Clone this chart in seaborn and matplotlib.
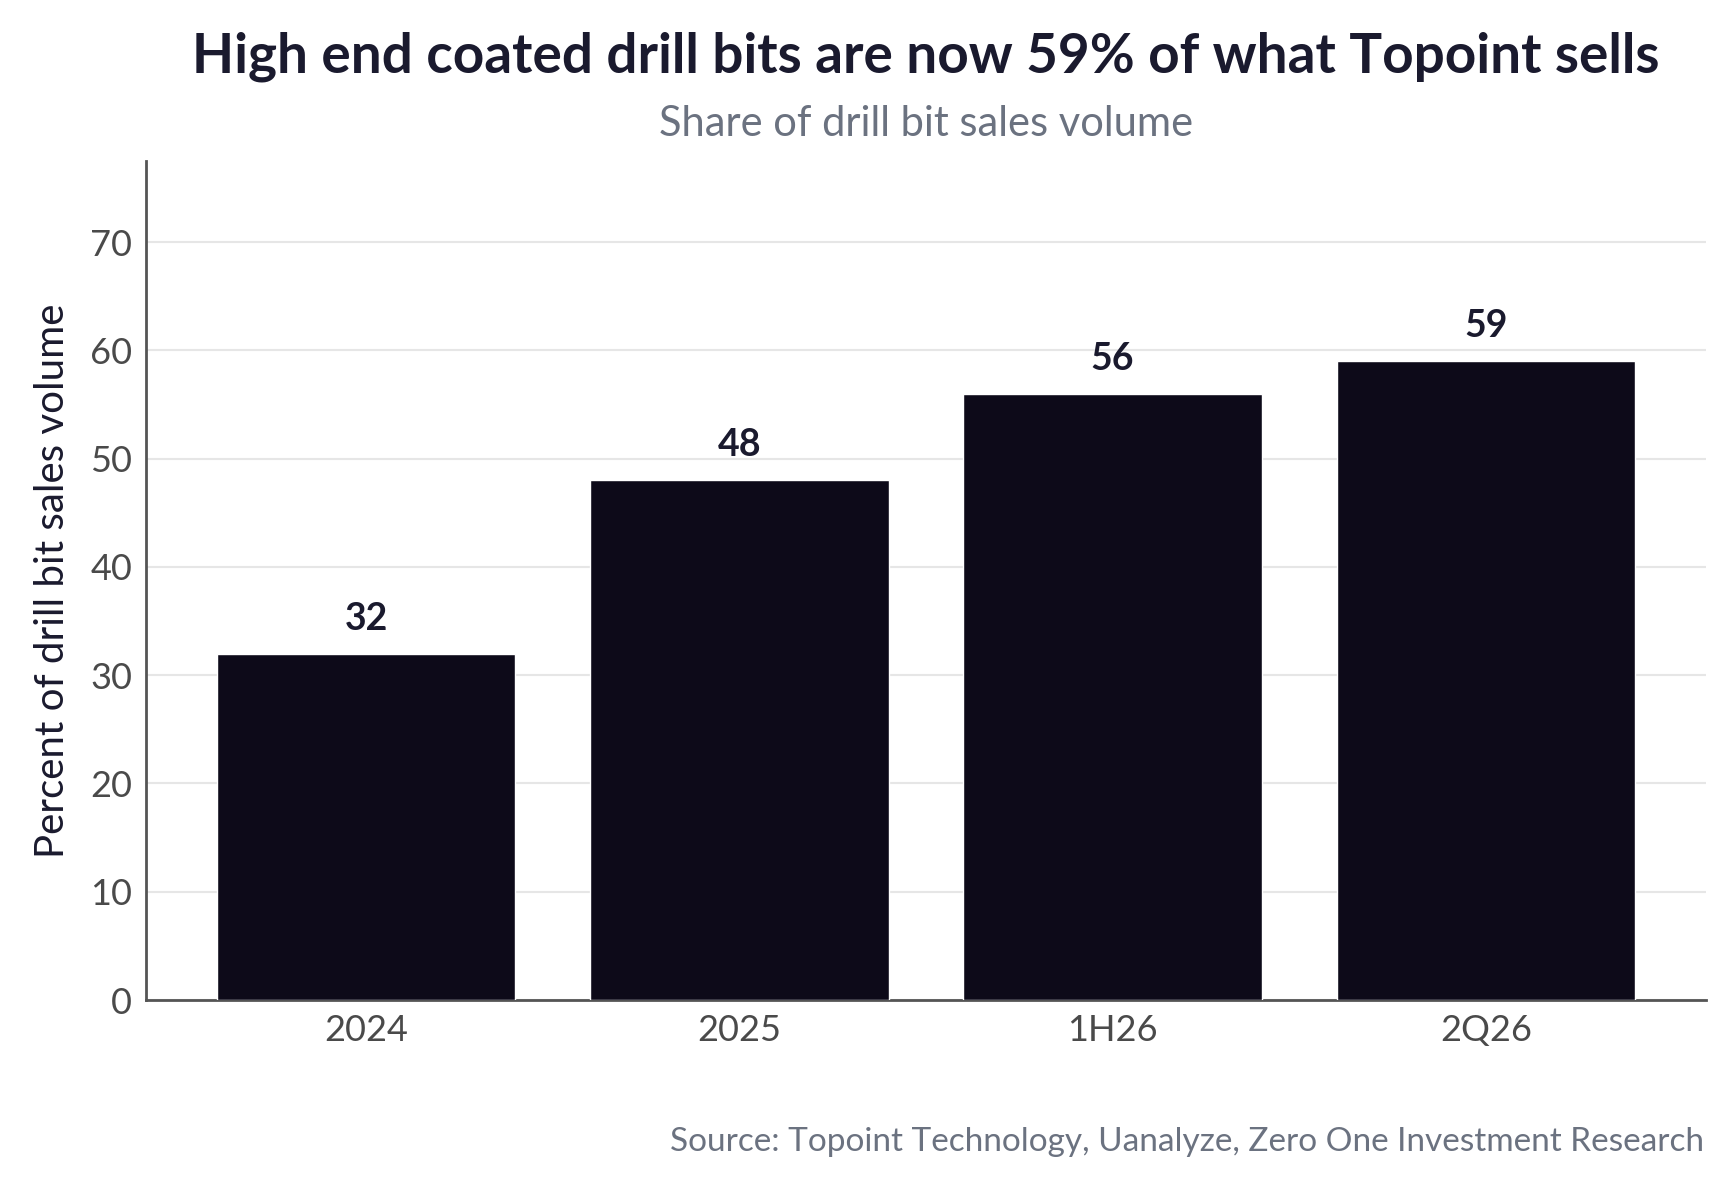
import matplotlib
matplotlib.use("Agg")
import matplotlib.pyplot as plt
import seaborn as sns
import pandas as pd

periods = ["2024", "2025", "1H26", "2Q26"]
share = [32, 48, 56, 59]
yticks = [0, 10, 20, 30, 40, 50, 60, 70]

title = "High end coated drill bits are now 59% of what Topoint sells"
subtitle = "Share of drill bit sales volume"
source = "Source: Topoint Technology, Uanalyze, Zero One Investment Research"
ylabel = "Percent of drill bit sales volume"

df = pd.DataFrame({"period": periods, "share": share})

sns.set_theme(style="white")
plt.rcParams["font.family"] = ["Lato", "DejaVu Sans"]

fig = plt.figure(figsize=(17.35, 11.87), dpi=100)
left, right, top, bottom = 146, 1706, 161, 1000
ax = fig.add_axes([left / 1735, 1 - bottom / 1187, (right - left) / 1735, (bottom - top) / 1187])

sns.barplot(data=df, x="period", y="share", color="#0d0a19", width=0.8,
            saturation=1, ax=ax, zorder=3)

ax.set_ylim(0, 77.5)
ax.set_xlim(-0.59, 3.59)
ax.set_yticks(yticks)
ax.grid(axis="y", color="#e6e6e6", linewidth=1.5, zorder=0)
ax.grid(axis="x", visible=False)
for s in ["top", "right"]:
    ax.spines[s].set_visible(False)
for s in ["left", "bottom"]:
    ax.spines[s].set_color("#555555")
    ax.spines[s].set_linewidth(2)
ax.tick_params(axis="both", length=0, labelsize=26, labelcolor="#4a4a4a", pad=10)
ax.set_xlabel("")
ax.set_ylabel(ylabel, fontsize=29, color="#1a1a2e", labelpad=14)

for i, v in enumerate(share):
    ax.annotate(f"{v}", (i, v), xytext=(0, 13), textcoords="offset points",
                ha="center", va="bottom", fontsize=27, fontweight="bold",
                color="#1a1a2e")

cx = (left + right) / 2 / 1735
fig.text(cx, 1 - 72 / 1187, title, ha="center", va="baseline", fontsize=39.5,
         fontweight="bold", color="#1a1a2e")
fig.text(cx, 1 - 136 / 1187, subtitle, ha="center", va="baseline", fontsize=30,
         color="#6b7280")
fig.text((right - 2) / 1735, 1 - 1151 / 1187, source, ha="right", va="baseline",
         fontsize=24, color="#6b7280")

fig.savefig("out.png", dpi=100)
